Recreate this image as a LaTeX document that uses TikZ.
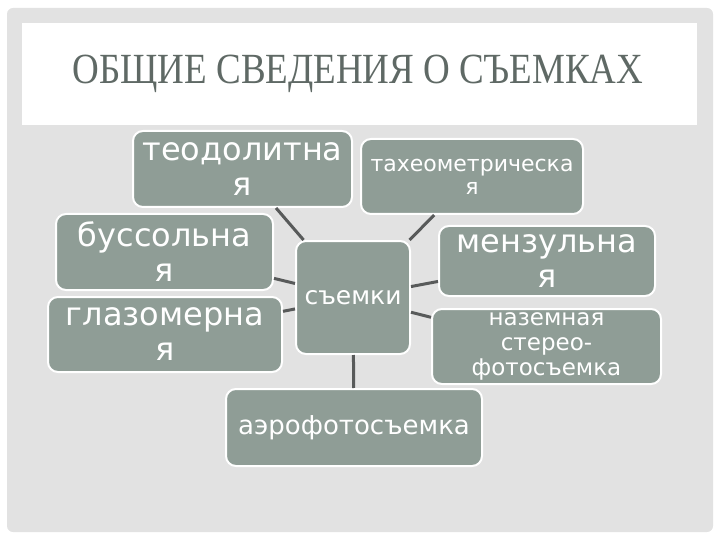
\documentclass[tikz,border=0pt]{standalone}
\usepackage{fontspec}
\setmainfont{Liberation Serif}
\newfontfamily\boxfont{DejaVu Sans}
\usetikzlibrary{positioning}

\definecolor{panelgray}{RGB}{226,226,226}
\definecolor{boxgreen}{RGB}{143,157,150}
\definecolor{linkgray}{RGB}{88,90,90}
\definecolor{titlegray}{RGB}{95,105,101}

\tikzset{
  kind/.style={draw=white, line width=2pt, fill=boxgreen, rounded corners=10pt,
    text=white, align=center, inner sep=0pt},
  link/.style={draw=linkgray, line width=3pt},
  bigtext/.style={font=\boxfont\fontsize{32}{35}\selectfont},
}

\begin{document}
\begin{tikzpicture}[x=1pt,y=-1pt]
        \useasboundingbox (0,0) rectangle (720,540);
        % Draw panel and title strip
        \fill[panelgray, rounded corners=6pt] (7,8) rectangle (713,532);
        \fill[white] (22,23) rectangle (697,125);
        \node[text=titlegray, font=\fontsize{43}{46}\selectfont] (title) at (358,74)
            {\scalebox{0.86}[1]{ОБЩИЕ СВЕДЕНИЯ О СЪЕМКАХ}};

        % Draw the kinds of survey
        \node[kind, bigtext, minimum width=219, minimum height=76] (teo) at (242.5,169)
            {теодолитна\\я};
        \node[kind, font=\boxfont\fontsize{22}{23}\selectfont, minimum width=222, minimum height=75]
            (tah) at (472,176.5) {тахеометрическа\\я};
        \node[kind, bigtext, minimum width=217, minimum height=76] (bus) at (164.5,252)
            {буссольна\\я};
        \node[kind, bigtext, minimum width=216, minimum height=70] (men) at (547,261)
            {мензульна\\я};
        \node[kind, bigtext, minimum width=234, minimum height=75] (glaz) at (165,334.5)
            {глазомерна\\я};
        \node[kind, font=\boxfont\fontsize{23}{25}\selectfont, minimum width=229, minimum height=75]
            (naz) at (546.5,346.5) {наземная\\стерео-\\фотосъемка};
        \node[kind, font=\boxfont\fontsize{26}{28}\selectfont, minimum width=256, minimum height=77]
            (aero) at (354,427.5) {аэрофотосъемка};

        % Draw centre
        \node[kind, font=\boxfont\fontsize{25}{27}\selectfont, minimum width=114, minimum height=113]
            (sem) at (353,297.5) {съемки};

        % Draw links
        \foreach \k in {teo,tah,bus,men,glaz,naz,aero}
            \draw[link] (sem) -- (\k);
    \end{tikzpicture}
\end{document}
